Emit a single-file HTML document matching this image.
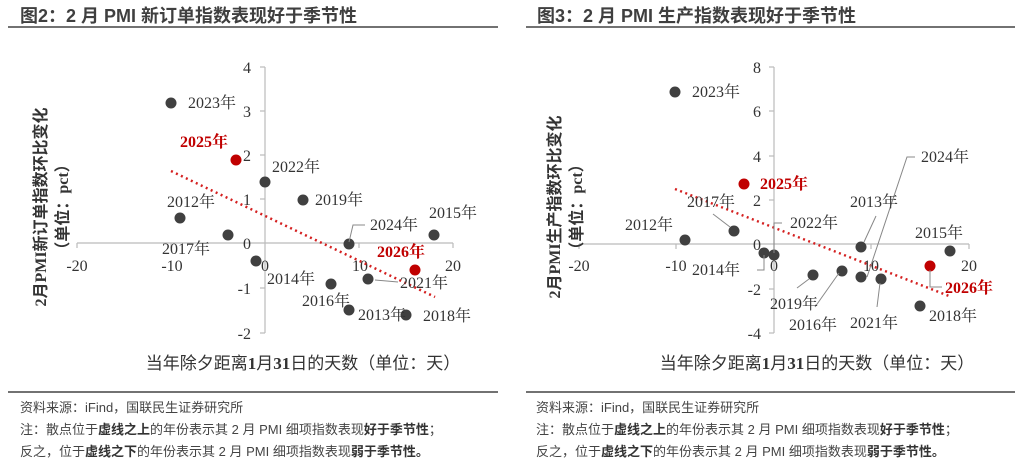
<!DOCTYPE html>
<html><head><meta charset="utf-8"><style>
body{margin:0;background:#fff;}
svg{display:block}
.t{font-family:"Liberation Sans","Noto Sans CJK SC",sans-serif;font-weight:bold;font-size:18px;fill:#3f3f3f}
.tk{font-family:"Liberation Serif","Noto Serif CJK SC",serif;font-size:16px;fill:#333}
.lb{font-family:"Liberation Serif","Noto Serif CJK SC",serif;font-size:16px;fill:#333}
.rd{font-family:"Liberation Serif","Noto Serif CJK SC",serif;font-size:16px;fill:#c00000;font-weight:bold}
.ax{font-family:"Liberation Serif","Noto Sans CJK SC",serif;font-size:17px;fill:#333}
.yt{font-family:"Liberation Serif","Noto Sans CJK SC",serif;font-size:16px;fill:#333;font-weight:bold}
.n{font-family:"Liberation Sans","Noto Sans CJK SC",sans-serif;font-size:13px;fill:#444}
.nb{font-weight:bold;fill:#333}
</style></head><body>
<svg width="1024" height="469" viewBox="0 0 1024 469">
<text class="t" x="20" y="22">图2：2 月 PMI 新订单指数表现好于季节性</text>
<text class="t" x="537" y="22">图3：2 月 PMI 生产指数表现好于季节性</text>
<line x1="8" y1="27" x2="498" y2="27" stroke="#444" stroke-width="1.6"/>
<line x1="526" y1="27" x2="1015" y2="27" stroke="#444" stroke-width="1.6"/>
<line x1="8" y1="392" x2="498" y2="392" stroke="#444" stroke-width="1.6"/>
<line x1="526" y1="392" x2="1015" y2="392" stroke="#444" stroke-width="1.6"/>

<!-- LEFT CHART -->
<g stroke="#bbb" stroke-width="1.2">
<line x1="77" y1="243" x2="453" y2="243"/>
<line x1="265" y1="67" x2="265" y2="333"/>
<line x1="77" y1="243" x2="77" y2="248"/><line x1="171" y1="243" x2="171" y2="248"/><line x1="359" y1="243" x2="359" y2="248"/><line x1="453" y1="243" x2="453" y2="248"/>
<line x1="260" y1="67" x2="265" y2="67"/><line x1="260" y1="111" x2="265" y2="111"/><line x1="260" y1="155" x2="265" y2="155"/><line x1="260" y1="199" x2="265" y2="199"/><line x1="260" y1="288" x2="265" y2="288"/><line x1="260" y1="333" x2="265" y2="333"/>
</g>
<g class="tk" text-anchor="end">
<text x="251" y="73">4</text><text x="251" y="117">3</text><text x="251" y="161">2</text><text x="251" y="205">1</text><text x="251" y="249">0</text><text x="251" y="294">-1</text><text x="251" y="339">-2</text>
</g>
<g class="tk" text-anchor="middle">
<text x="77" y="271">-20</text><text x="172" y="271">-10</text><text x="265" y="271">0</text><text x="360" y="271">10</text><text x="453" y="271">20</text>
</g>
<g fill="#404040">
<circle cx="171" cy="103" r="5.5"/><circle cx="265" cy="182" r="5.5"/><circle cx="303" cy="200" r="5.5"/><circle cx="180" cy="218" r="5.5"/><circle cx="228" cy="235" r="5.5"/><circle cx="349" cy="244" r="5.5"/><circle cx="434" cy="235" r="5.5"/><circle cx="256" cy="261" r="5.5"/><circle cx="368" cy="279" r="5.5"/><circle cx="331" cy="284" r="5.5"/><circle cx="349" cy="310" r="5.5"/><circle cx="406" cy="315" r="5.5"/>
</g>
<circle cx="236" cy="160" r="5.5" fill="#c00000"/><circle cx="415" cy="270" r="5.5" fill="#c00000"/>
<line x1="171" y1="171" x2="435" y2="297" stroke="#d42020" stroke-width="2.5" stroke-dasharray="2,3.5"/>
<g stroke="#888" stroke-width="1" fill="none">
<polyline points="349,242 353,225 365,225"/><polyline points="375,280 398,282"/>
</g>
<g class="lb">
<text x="188" y="108">2023年</text><text x="272" y="172">2022年</text><text x="315" y="205">2019年</text><text x="167" y="207">2012年</text><text x="162" y="254">2017年</text><text x="370" y="230">2024年</text><text x="429" y="218">2015年</text><text x="267" y="284">2014年</text><text x="400" y="288">2021年</text><text x="302" y="306">2016年</text><text x="358" y="320">2013年</text><text x="423" y="321">2018年</text>
</g>
<text class="rd" x="180" y="147">2025年</text><text class="rd" x="377" y="257">2026年</text>
<text class="yt" transform="translate(46,207) rotate(-90)" text-anchor="middle">2月PMI新订单指数环比变化</text>
<text class="yt" transform="translate(68,207) rotate(-90)" text-anchor="middle">（单位：pct）</text>
<text class="ax" x="303" y="369" text-anchor="middle">当年除夕距离<tspan font-weight="bold">1</tspan>月<tspan font-weight="bold">31</tspan>日的天数（单位：天）</text>

<!-- RIGHT CHART -->
<g stroke="#bbb" stroke-width="1.2">
<line x1="579" y1="244" x2="969" y2="244"/>
<line x1="774" y1="67" x2="774" y2="333"/>
<line x1="579" y1="244" x2="579" y2="249"/><line x1="676" y1="244" x2="676" y2="249"/><line x1="871" y1="244" x2="871" y2="249"/><line x1="969" y1="244" x2="969" y2="249"/>
<line x1="769" y1="67" x2="774" y2="67"/><line x1="769" y1="111" x2="774" y2="111"/><line x1="769" y1="156" x2="774" y2="156"/><line x1="769" y1="200" x2="774" y2="200"/><line x1="769" y1="289" x2="774" y2="289"/><line x1="769" y1="333" x2="774" y2="333"/>
</g>
<g class="tk" text-anchor="end">
<text x="761" y="73">8</text><text x="761" y="117">6</text><text x="761" y="162">4</text><text x="761" y="206">2</text><text x="761" y="250">0</text><text x="761" y="295">-2</text><text x="761" y="339">-4</text>
</g>
<g class="tk" text-anchor="middle">
<text x="579" y="271">-20</text><text x="676" y="271">-10</text><text x="774" y="271">0</text><text x="871" y="271">10</text><text x="969" y="271">20</text>
</g>
<g fill="#404040">
<circle cx="675" cy="92" r="5.5"/><circle cx="734" cy="231" r="5.5"/><circle cx="685" cy="240" r="5.5"/><circle cx="861" cy="247" r="5.5"/><circle cx="950" cy="251" r="5.5"/><circle cx="764" cy="253" r="5.5"/><circle cx="774" cy="255" r="5.5"/><circle cx="813" cy="275" r="5.5"/><circle cx="842" cy="271" r="5.5"/><circle cx="861" cy="277" r="5.5"/><circle cx="881" cy="279" r="5.5"/><circle cx="920" cy="306" r="5.5"/>
</g>
<circle cx="744" cy="184" r="5.5" fill="#c00000"/><circle cx="930" cy="266" r="5.5" fill="#c00000"/>
<line x1="675" y1="189" x2="949" y2="296" stroke="#d42020" stroke-width="2.5" stroke-dasharray="2,3.5"/>
<g stroke="#888" stroke-width="1" fill="none">
<polyline points="713,214 730,227"/><polyline points="782,223 774,223 774,253"/><polyline points="915,157 907,157 867,277"/><polyline points="876,216 864,242"/><polyline points="757,270 764,270 764,255"/><polyline points="797,288 809,279"/><polyline points="815,307 839,273"/><polyline points="877,307 880,283"/><polyline points="930,270 930,287 942,287"/>
</g>
<g class="lb">
<text x="692" y="97">2023年</text><text x="687" y="207">2017年</text><text x="625" y="230">2012年</text><text x="790" y="228">2022年</text><text x="921" y="162">2024年</text><text x="850" y="207">2013年</text><text x="915" y="238">2015年</text><text x="692" y="275">2014年</text><text x="770" y="309">2019年</text><text x="789" y="330">2016年</text><text x="850" y="328">2021年</text><text x="929" y="321">2018年</text>
</g>
<text class="rd" x="760" y="189">2025年</text><text class="rd" x="945" y="293">2026年</text>
<text class="yt" transform="translate(560,207) rotate(-90)" text-anchor="middle">2月PMI生产指数环比变化</text>
<text class="yt" transform="translate(582,207) rotate(-90)" text-anchor="middle">（单位：pct）</text>
<text class="ax" x="817" y="369" text-anchor="middle">当年除夕距离<tspan font-weight="bold">1</tspan>月<tspan font-weight="bold">31</tspan>日的天数（单位：天）</text>

<!-- NOTES -->
<g class="n">
<text x="20" y="412">资料来源：iFind，国联民生证券研究所</text>
<text x="20" y="434">注：散点位于<tspan class="nb">虚线之上</tspan>的年份表示其 2 月 PMI 细项指数表现<tspan class="nb">好于季节性</tspan>；</text>
<text x="20" y="456">反之，位于<tspan class="nb">虚线之下</tspan>的年份表示其 2 月 PMI 细项指数表现<tspan class="nb">弱于季节性。</tspan></text>
<text x="536" y="412">资料来源：iFind，国联民生证券研究所</text>
<text x="536" y="434">注：散点位于<tspan class="nb">虚线之上</tspan>的年份表示其 2 月 PMI 细项指数表现<tspan class="nb">好于季节性</tspan>；</text>
<text x="536" y="456">反之，位于<tspan class="nb">虚线之下</tspan>的年份表示其 2 月 PMI 细项指数表现<tspan class="nb">弱于季节性。</tspan></text>
</g>
</svg>
</body></html>
